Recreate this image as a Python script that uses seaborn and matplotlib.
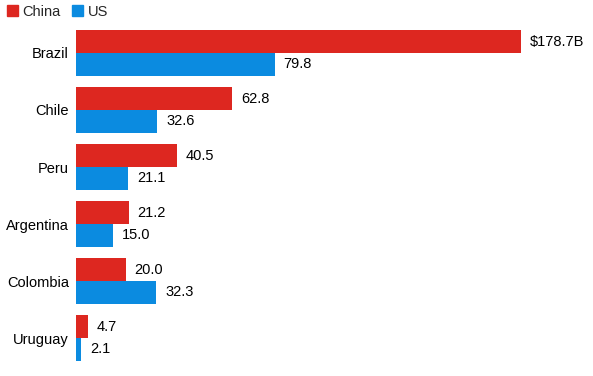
import matplotlib
matplotlib.use('Agg')
import matplotlib.pyplot as plt
import seaborn as sns
import pandas as pd
from matplotlib.patches import Patch

countries = ['Brazil', 'Chile', 'Peru', 'Argentina', 'Colombia', 'Uruguay']
china = [178.7, 62.8, 40.5, 21.2, 20.0, 4.7]
us = [79.8, 32.6, 21.1, 15.0, 32.3, 2.1]
series = ['China', 'US']
colors = {'China': '#dd2720', 'US': '#0b8be0'}

df = pd.DataFrame({
    'country': countries * 2,
    'value': china + us,
    'series': ['China'] * len(countries) + ['US'] * len(countries),
})

sns.set_theme(style='white')
plt.rcParams['font.family'] = ['Liberation Sans', 'DejaVu Sans']

fig = plt.figure(figsize=(5.93, 3.76), dpi=100)
ax = fig.add_axes([0.128, 0.025, 0.872, 0.91])

sns.barplot(data=df, y='country', x='value', hue='series', hue_order=series,
            order=countries, palette=colors, orient='h', width=0.8,
            saturation=1, legend=False, linewidth=0, ax=ax)

for cont, s in zip(ax.containers, series):
    vals = china if s == 'China' else us
    labels = [f'{v:.1f}' for v in vals]
    if s == 'China':
        labels[0] = f'${vals[0]:.1f}B'
    ax.bar_label(cont, labels=labels, padding=6.5, fontsize=10.5, color='black')

ax.set_xlim(0, 207.6)
ax.set_ylim(5.5, -0.5)
ax.set_xlabel('')
ax.set_ylabel('')
ax.set_xticks([])
ax.tick_params(axis='y', length=0, pad=5, labelsize=10.5, labelcolor='black')
sns.despine(ax=ax, left=True, bottom=True)

handles = [Patch(color=colors[s], label=s) for s in series]
fig.legend(handles=handles, loc='upper left', bbox_to_anchor=(-0.005, 1.015), ncol=2,
           frameon=False, fontsize=10.5, handlelength=0.75, handleheight=0.75,
           handletextpad=0.3, columnspacing=0.8, borderaxespad=0.3)

fig.savefig('out.png', dpi=100)
